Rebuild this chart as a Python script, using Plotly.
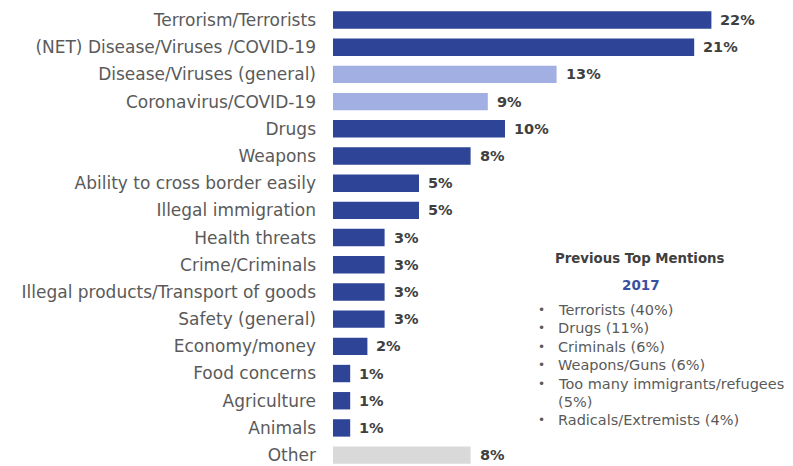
import plotly.graph_objects as go

categories = [
    "Terrorism/Terrorists",
    "(NET) Disease/Viruses /COVID-19",
    "Disease/Viruses (general)",
    "Coronavirus/COVID-19",
    "Drugs",
    "Weapons",
    "Ability to cross border easily",
    "Illegal immigration",
    "Health threats",
    "Crime/Criminals",
    "Illegal products/Transport of goods",
    "Safety (general)",
    "Economy/money",
    "Food concerns",
    "Agriculture",
    "Animals",
    "Other",
]
values = [22, 21, 13, 9, 10, 8, 5, 5, 3, 3, 3, 3, 2, 1, 1, 1, 8]
bar_kind = ["main", "main", "sub", "sub", "main", "main", "main", "main", "main",
            "main", "main", "main", "main", "main", "main", "main", "other"]

prev_title = "Previous Top Mentions"
prev_year = "2017"
prev_items = [
    ("•", "Terrorists (40%)"),
    ("•", "Drugs (11%)"),
    ("•", "Criminals (6%)"),
    ("•", "Weapons/Guns (6%)"),
    ("•", "Too many immigrants/refugees"),
    ("", "(5%)"),
    ("•", "Radicals/Extremists (4%)"),
]

color_map = {"main": "#2E4597", "sub": "#A1AFE2", "other": "#D9D9D9"}
colors = [color_map[k] for k in bar_kind]

FONT = "DejaVu Sans"
LABEL_GREY = "#5A5A5A"

y_idx = list(range(len(categories)))

fig = go.Figure()
fig.add_trace(go.Bar(
    x=values, y=y_idx, orientation="h",
    marker=dict(color=colors, line=dict(width=0)),
    width=0.64,
    hoverinfo="skip",
))

annotations = []
for i, v in enumerate(values):
    annotations.append(dict(
        x=v, y=i, xref="x", yref="y", text=f"<b>{v}%</b>",
        showarrow=False, xanchor="left", yanchor="middle", xshift=7,
        font=dict(family=FONT, size=14.5, color="#404040"),
    ))

W, H, L, R = 793, 466, 333, 30
def px(xp):
    return (xp - L) / (W - L - R)
def py(yp):
    return 1 - yp / H

annotations.append(dict(x=px(640), y=py(258), xref="paper", yref="paper",
                        text=f"<b>{prev_title}</b>", showarrow=False,
                        xanchor="center", yanchor="middle",
                        font=dict(family=FONT, size=13.3, color="#404040")))
annotations.append(dict(x=px(641), y=py(285), xref="paper", yref="paper",
                        text=f"<b>{prev_year}</b>", showarrow=False,
                        xanchor="center", yanchor="middle",
                        font=dict(family=FONT, size=13.5, color="#3A4FA3")))
for j, (b, t) in enumerate(prev_items):
    yy = 310 + j * 18.4
    if b:
        annotations.append(dict(x=px(541), y=py(yy), xref="paper", yref="paper",
                                text=b, showarrow=False, xanchor="center",
                                yanchor="middle",
                                font=dict(family=FONT, size=12, color=LABEL_GREY)))
    annotations.append(dict(x=px(556), y=py(yy), xref="paper", yref="paper",
                            text=t, showarrow=False, xanchor="left",
                            yanchor="middle",
                            font=dict(family=FONT, size=14.5, color=LABEL_GREY)))

fig.update_layout(
    width=W, height=H,
    margin=dict(l=L, r=R, t=0, b=0),
    paper_bgcolor="white", plot_bgcolor="white",
    showlegend=False,
    annotations=annotations,
    xaxis=dict(range=[0, 25], visible=False, fixedrange=True),
    yaxis=dict(
        range=[16.40, -0.736],
        tickmode="array", tickvals=y_idx, ticktext=categories,
        showgrid=False, zeroline=False, showline=False, ticks="",
        ticklabelstandoff=16,
        tickfont=dict(family=FONT, size=17, color=LABEL_GREY),
        fixedrange=True,
    ),
)

fig.write_html("out.html")
